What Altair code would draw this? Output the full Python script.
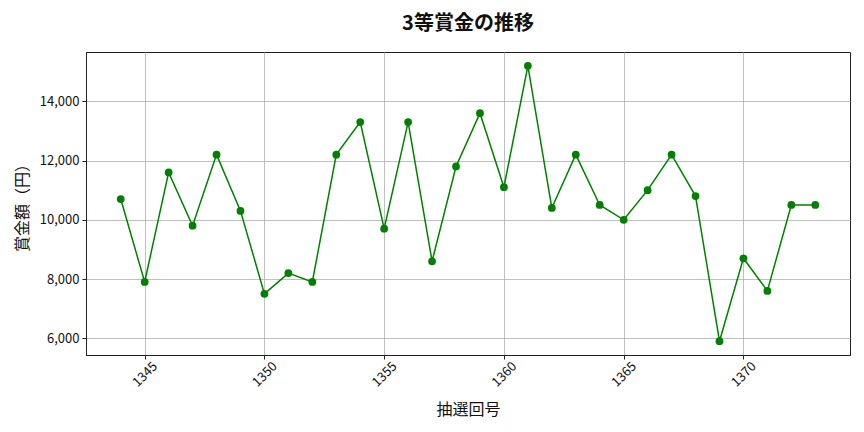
import pandas as pd
import altair as alt

draws = [1344, 1345, 1346, 1347, 1348, 1349, 1350, 1351, 1352, 1353,
         1354, 1355, 1356, 1357, 1358, 1359, 1360, 1361, 1362, 1363,
         1364, 1365, 1366, 1367, 1368, 1369, 1370, 1371, 1372, 1373]
prizes = [10700, 7900, 11600, 9800, 12200, 10300, 7500, 8200, 7900, 12200,
          13300, 9700, 13300, 8600, 11800, 13600, 11100, 15200, 10400, 12200,
          10500, 10000, 11000, 12200, 10800, 5900, 8700, 7600, 10500, 10500]
x_ticks = [1345, 1350, 1355, 1360, 1365, 1370]
y_ticks = [6000, 8000, 10000, 12000, 14000]

df = pd.DataFrame({"draw": draws, "prize": prizes})
FONT = "Noto Sans CJK JP"

x_enc = alt.X(
    "draw:Q",
    scale=alt.Scale(domain=[1342.55, 1374.45], nice=False, zero=False),
    axis=alt.Axis(
        title="抽選回号",
        values=x_ticks,
        format="d",
        labelAngle=-45,
        labelAlign="center",
        labelBaseline="middle",
        labelPadding=15,
        titleX=382,
        titleY=54,
        titleBaseline="middle",
        titleAlign="center",
    ),
)
y_enc = alt.Y(
    "prize:Q",
    scale=alt.Scale(domain=[5435, 15665], nice=False, zero=False),
    axis=alt.Axis(
        title="賞金額（円）",
        values=y_ticks,
        format=",.0f",
        labelPadding=3,
        titleX=-64,
        titleY=151.5,
        titleAngle=-90,
        titleBaseline="middle",
        titleAlign="center",
    ),
)

base = alt.Chart(df).encode(x=x_enc, y=y_enc)
line = base.mark_line(color="#008000", strokeWidth=1.5)
points = base.mark_point(filled=True, color="#008000", size=60, opacity=1)

chart = (
    (line + points)
    .properties(
        width=764,
        height=303,
        title=alt.TitleParams(
            "3等賞金の推移",
            fontSize=20,
            fontWeight="bold",
            anchor="middle",
            baseline="middle",
            offset=8,
            font=FONT,
            color="#111111",
        ),
        autosize=alt.AutoSizeParams(type="none"),
        padding={"left": 78, "top": 44, "right": 6, "bottom": 69},
    )
    .configure(font=FONT)
    .configure_view(stroke="#222222", strokeWidth=1)
    .configure_axis(
        grid=True,
        gridColor="#b0b0b0",
        gridWidth=0.8,
        domainColor="#222222",
        tickColor="#222222",
        tickSize=4,
        labelFontSize=13,
        labelColor="#111111",
        labelFont=FONT,
        titleFont=FONT,
        titleFontSize=16,
        titleFontWeight="normal",
        titleColor="#111111",
    )
)

chart.save("out.html", embed_options={"renderer": "svg", "actions": False})
